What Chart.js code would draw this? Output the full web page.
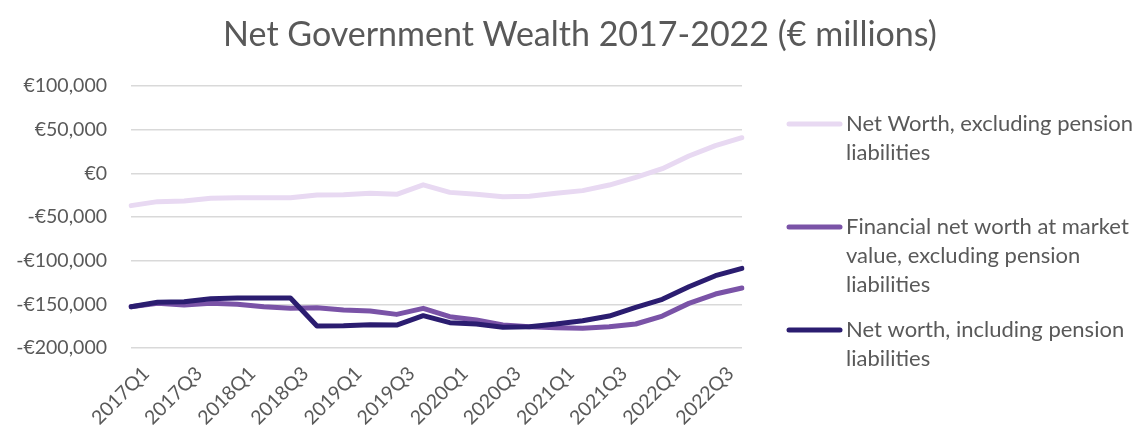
<!DOCTYPE html>
<html>
<head>
<meta charset="utf-8">
<script src="https://cdn.jsdelivr.net/npm/chart.js@4/dist/chart.umd.min.js"></script>
<style>
  html, body { margin: 0; padding: 0; background: #fff; }
  .wrap { position: relative; width: 1137px; height: 432px; }
</style>
</head>
<body>
<div class="wrap"><canvas id="wealthChart"></canvas></div>
<script>
// Quarters 2017Q1 - 2022Q4
const quarters = [
    '2017Q1', '2017Q2', '2017Q3', '2017Q4',
    '2018Q1', '2018Q2', '2018Q3', '2018Q4',
    '2019Q1', '2019Q2', '2019Q3', '2019Q4',
    '2020Q1', '2020Q2', '2020Q3', '2020Q4',
    '2021Q1', '2021Q2', '2021Q3', '2021Q4',
    '2022Q1', '2022Q2', '2022Q3', '2022Q4'
];

// € millions
const netWorthExcl = [
    -37000, -32400, -31700, -28600, -27900, -27900, -27900, -24800,
    -24400, -22900, -24000, -13200, -21800, -24000, -26700, -26300,
    -22900, -19800, -13400, -4600, 5300, 19800, 31700, 40800
];
const financialNetWorth = [
    -152700, -148900, -150800, -148900, -150000, -152700, -154600, -153800,
    -156500, -157600, -161500, -154600, -164100, -168000, -173700, -175600,
    -176700, -177500, -175600, -172500, -163400, -148900, -138200, -131300
];
const netWorthIncl = [
    -152700, -147700, -147000, -143500, -142800, -142800, -142800, -174800,
    -174400, -173300, -173700, -163000, -171000, -172500, -176300, -175600,
    -172500, -168700, -163400, -153400, -144300, -129800, -117200, -108800
];

const yTicks = [-200000, -150000, -100000, -50000, 0, 50000, 100000];

const seriesNames = [
    ['Net Worth, excluding pension', 'liabilities'],
    ['Financial net worth at market', 'value, excluding pension', 'liabilities'],
    ['Net worth, including pension', 'liabilities']
];
const seriesColors = ['#E8D9F2', '#7A53A7', '#2B1D70'];

const titleText = 'Net Government Wealth 2017-2022 (€ millions)';
const textColor = '#595959';
const fontFamily = 'Lato, "Open Sans", sans-serif';

function euro(v) {
    const s = '€' + Math.abs(v).toLocaleString('en-US');
    return v < 0 ? '-' + s : s;
}

// title and the wrapped legend on the right are painted here
const decorPlugin = {
    id: 'decor',
    afterDraw(chart) {
        const ctx = chart.ctx;
        ctx.save();
        ctx.fillStyle = textColor;
        ctx.font = `34px ${fontFamily}`;
        ctx.textAlign = 'center';
        ctx.textBaseline = 'middle';
        ctx.fillText(titleText, 580, 35);

        const groupTops = [124, 227, 330];
        ctx.font = `22px ${fontFamily}`;
        ctx.textAlign = 'left';
        seriesNames.forEach((lines, i) => {
            const y = groupTops[i];
            ctx.strokeStyle = seriesColors[i];
            ctx.lineWidth = 5;
            ctx.lineCap = 'round';
            ctx.beginPath();
            ctx.moveTo(789, y);
            ctx.lineTo(840, y);
            ctx.stroke();
            lines.forEach((line, j) => {
                ctx.fillText(line, 846, y + j * 29);
            });
        });
        ctx.restore();
    }
};

const ctx = document.getElementById('wealthChart').getContext('2d');
new Chart(ctx, {
    type: 'line',
    data: {
        labels: quarters,
        datasets: [
            { label: seriesNames[0].join(' '), data: netWorthExcl, borderColor: seriesColors[0], order: 2 },
            { label: seriesNames[1].join(' '), data: financialNetWorth, borderColor: seriesColors[1], order: 1 },
            { label: seriesNames[2].join(' '), data: netWorthIncl, borderColor: seriesColors[2], order: 0 }
        ].map(ds => Object.assign(ds, {
            borderWidth: 5,
            pointRadius: 0,
            tension: 0,
            fill: false,
            borderJoinStyle: 'round',
            borderCapStyle: 'round'
        }))
    },
    options: {
        responsive: true,
        maintainAspectRatio: false,
        animation: false,
        layout: {
            padding: { top: 86, right: 395, bottom: 0, left: 0 }
        },
        scales: {
            x: {
                grid: { display: false, drawTicks: false },
                border: { display: false },
                afterFit: (scale) => { scale.height = 84; },
                ticks: {
                    autoSkip: false,
                    minRotation: 45,
                    maxRotation: 45,
                    padding: 14,
                    labelOffset: 15,
                    color: textColor,
                    font: { family: fontFamily, size: 19.5 },
                    callback: (val, i) => (i % 2 === 0 ? quarters[i] : '')
                }
            },
            y: {
                min: -200000,
                max: 100000,
                afterFit: (scale) => { scale.width = 131; },
                afterBuildTicks: (scale) => {
                    scale.ticks = yTicks.map(v => ({ value: v }));
                },
                grid: { color: '#D9D9D9', lineWidth: 1.5, drawTicks: false },
                border: { display: false },
                ticks: {
                    padding: 24,
                    color: textColor,
                    font: { family: fontFamily, size: 19.5 },
                    callback: (v) => euro(v)
                }
            }
        },
        plugins: {
            legend: { display: false },
            title: { display: false },
            tooltip: { enabled: false }
        }
    },
    plugins: [decorPlugin]
});
</script>
</body>
</html>
